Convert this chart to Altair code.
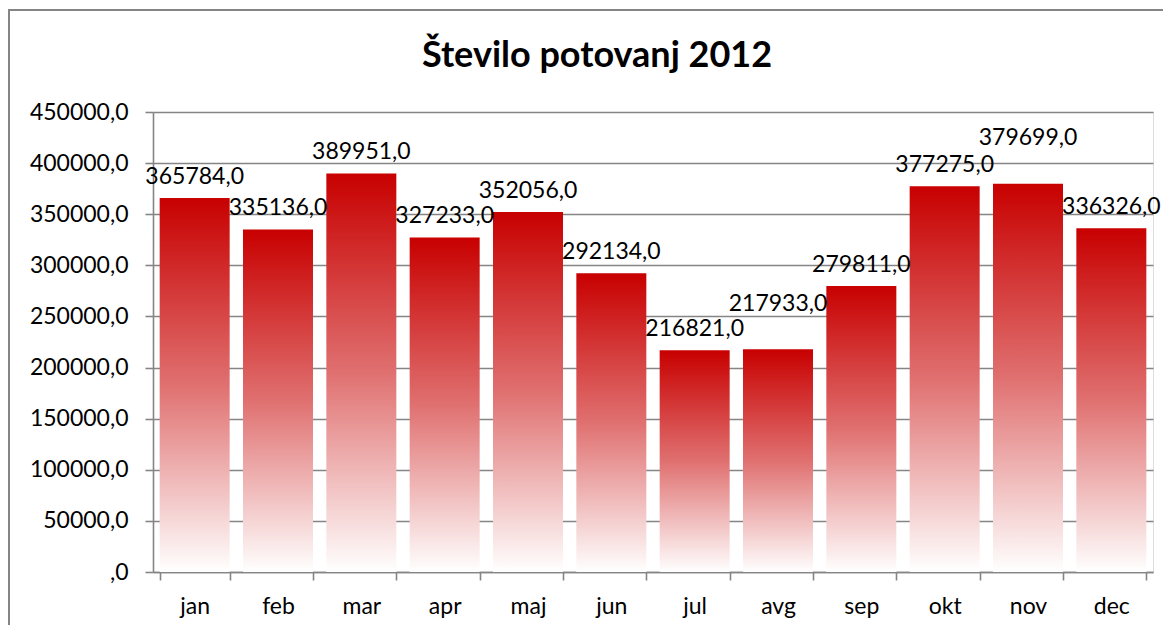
import altair as alt
import pandas as pd

months = ["jan", "feb", "mar", "apr", "maj", "jun", "jul", "avg", "sep", "okt", "nov", "dec"]
values = [365784, 335136, 389951, 327233, 352056, 292134, 216821, 217933, 279811, 377275, 379699, 336326]
y_ticks = [0, 50000, 100000, 150000, 200000, 250000, 300000, 350000, 400000, 450000]
title_text = "Število potovanj 2012"

df = pd.DataFrame({"mesec": months, "vrednost": values})

FONT = "Lato"
GRAY = "#858585"
W, H = 1000, 460

x_enc = alt.X(
    "mesec:N", sort=months, title=None,
    scale=alt.Scale(paddingInner=0.16, paddingOuter=0.08),
    axis=alt.Axis(labelAngle=0, tickBand="extent", domainColor=GRAY, domainWidth=1.6,
                  tickColor=GRAY, tickWidth=1.6, tickSize=8, labelPadding=15,
                  labelFont=FONT, labelFontSize=23, labelColor="black", grid=False),
)
y_enc = alt.Y(
    "vrednost:Q", title=None,
    scale=alt.Scale(domain=[0, 450000], nice=False),
    axis=alt.Axis(values=y_ticks, labelExpr="datum.value == 0 ? ',0' : datum.value + ',0'",
                  domainColor=GRAY, domainWidth=1.6, tickColor=GRAY, tickWidth=1.6, tickSize=8,
                  gridColor=GRAY, gridWidth=1.6, labelPadding=17,
                  labelFont=FONT, labelFontSize=23, labelColor="black"),
)

bars = alt.Chart(df).mark_bar(
    fill=alt.Gradient(
        gradient="linear",
        stops=[alt.GradientStop(color="#C80000", offset=0),
               alt.GradientStop(color="#E07070", offset=0.5),
               alt.GradientStop(color="#FFFFFF", offset=1)],
        x1=0, x2=0, y1=0, y2=1,
    )
).encode(x=x_enc, y=y_enc)

# labels: raise a label when its neighbour on the left has almost the same value
labels = alt.Chart(df).transform_window(
    prev="lag(vrednost)", sort=[alt.SortField("idx")]
).transform_calculate(
    lbl="datum.vrednost + ',0'",
    lbly="datum.prev != null && abs(datum.vrednost - datum.prev) < 20000 ? datum.vrednost + 24000 : datum.vrednost",
).mark_text(font=FONT, fontSize=23, color="black", baseline="alphabetic", dy=-14).encode(
    x=alt.X("mesec:N", sort=months),
    y=alt.Y("lbly:Q"),
    text="lbl:N",
)

title = alt.Chart(pd.DataFrame({"t": [title_text]})).mark_text(
    font=FONT, fontSize=36, fontWeight="bold", color="black", baseline="alphabetic", align="center"
).encode(x=alt.value(444), y=alt.value(-45), text="t:N")

frame = alt.Chart(pd.DataFrame({"a": [0]})).mark_rect(
    fill=None, stroke=GRAY, strokeWidth=2
).encode(x=alt.value(-144), x2=alt.value(W + 200), y=alt.value(-102), y2=alt.value(H + 200))

chart = alt.layer(frame, bars, labels, title).properties(
    width=W, height=H,
    autosize=alt.AutoSizeParams(type="none"),
    padding={"left": 145, "top": 104, "right": 10, "bottom": 53},
).configure_view(stroke=None).configure(background="white")

chart.save("out.html", embed_options={"renderer": "svg", "actions": False})
